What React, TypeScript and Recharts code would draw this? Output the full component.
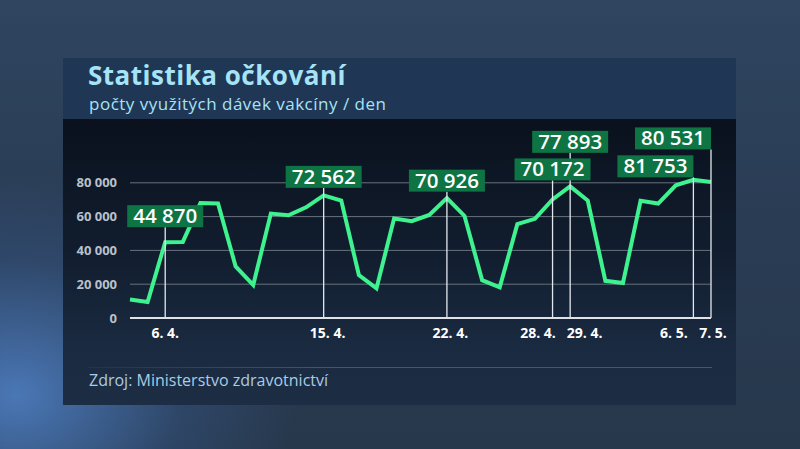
import React from 'react';
import { LineChart, Line, XAxis, YAxis, CartesianGrid } from 'recharts';

// one point per day, 4. 4. – 7. 5.
const days = [
  '4. 4.', '5. 4.', '6. 4.', '7. 4.', '8. 4.', '9. 4.', '10. 4.', '11. 4.', '12. 4.', '13. 4.',
  '14. 4.', '15. 4.', '16. 4.', '17. 4.', '18. 4.', '19. 4.', '20. 4.', '21. 4.', '22. 4.', '23. 4.',
  '24. 4.', '25. 4.', '26. 4.', '27. 4.', '28. 4.', '29. 4.', '30. 4.', '1. 5.', '2. 5.', '3. 5.',
  '4. 5.', '5. 5.', '6. 5.', '7. 5.',
];
const doses = [
  11000, 9500, 44870, 45000, 68000, 67800, 30500, 19500, 61800, 60800,
  65500, 72562, 69500, 25400, 17500, 58900, 57300, 61000, 70926, 60400,
  22400, 18200, 55500, 58700, 70172, 77893, 69500, 22000, 20700, 69300,
  67700, 78500, 81753, 80531,
];
const yTicks = [0, 20000, 40000, 60000, 80000];
const highlighted = ['6. 4.', '15. 4.', '22. 4.', '28. 4.', '29. 4.', '6. 5.', '7. 5.'];

// callout box placement (px above the point), layout only
const calloutLift: Record<string, { lift: number; align: 'center' | 'right' }> = {
  '6. 4.': { lift: 15, align: 'center' },
  '15. 4.': { lift: 7.5, align: 'center' },
  '22. 4.': { lift: 6.5, align: 'center' },
  '28. 4.': { lift: 19, align: 'center' },
  '29. 4.': { lift: 33.5, align: 'center' },
  '6. 5.': { lift: 2.5, align: 'right' },
  '7. 5.': { lift: 32.5, align: 'right' },
};
// date labels are nudged apart where lines are close
const tickNudge: Record<string, number> = {
  '6. 4.': 0, '15. 4.': 4, '22. 4.': 3.5, '28. 4.': -14.5, '29. 4.': 14.5, '6. 5.': -19.5, '7. 5.': 2,
};

const data = days.map((d, i) => ({ i, day: d, v: doses[i] }));
const tickIdx = highlighted.map((d) => days.indexOf(d));

const W = 800;
const H = 449;
const margin = { top: 149, right: 89, bottom: 101, left: 70 };
const PLOT_BOTTOM = H - margin.bottom - 30;
const BOX_W = 76;
const BOX_H = 22;
const FONT = '"Open Sans", "DejaVu Sans", sans-serif';

const fmt = (n: number) => String(n).replace(/\B(?=(\d{3})+(?!\d))/g, ' ');

function boxGeom(day: string, cx: number, cy: number) {
  const c = calloutLift[day];
  const bottom = cy - c.lift;
  const left = c.align === 'center' ? cx - BOX_W / 2 : cx - BOX_W;
  return { left, bottom };
}

const StemDot = (props: any) => {
  const { cx, cy, payload, index } = props;
  if (!calloutLift[payload.day]) return <g key={index} />;
  const { bottom } = boxGeom(payload.day, cx, cy);
  return <line key={index} x1={cx} x2={cx} y1={PLOT_BOTTOM} y2={bottom} stroke="#e4e8ee" strokeWidth={1.3} />;
};

const BoxDot = (props: any) => {
  const { cx, cy, payload, index } = props;
  if (!calloutLift[payload.day]) return <g key={index} />;
  const { left, bottom } = boxGeom(payload.day, cx, cy);
  return (
    <g key={index}>
      <rect x={left} y={bottom - BOX_H} width={BOX_W} height={BOX_H} fill="#0e7443" />
      <text x={left + BOX_W / 2} y={bottom - 4} textAnchor="middle" fill="#ffffff" fontFamily={FONT} fontWeight={600} fontSize={20.5}>
        {fmt(payload.v)}
      </text>
    </g>
  );
};

const DateTick = (props: any) => {
  const { x, y, payload } = props;
  const label = days[payload.value];
  return (
    <text x={x + (tickNudge[label] || 0)} y={y + 18} textAnchor="middle" fill="#ffffff" fontFamily={FONT} fontWeight={700} fontSize={14}>
      {label}
    </text>
  );
};

export default function App() {
  return (
    <div
      style={{
        position: 'absolute', left: 0, top: 0, width: W, height: H, overflow: 'hidden',
        background:
          'radial-gradient(ellipse 35% 50% at 2% 88%, rgba(80,130,200,0.85), rgba(60,100,160,0.3) 60%, rgba(0,0,0,0) 100%), linear-gradient(180deg, #2f4560 0%, #2a3c54 50%, #27384c 100%)',
        fontFamily: FONT,
      }}
    >
      <div style={{ position: 'absolute', left: 63, top: 58, width: 673, height: 61, background: '#1f3655' }} />
      <div
        style={{
          position: 'absolute', left: 63, top: 119, width: 673, height: 286,
          background: 'linear-gradient(180deg, #0a111d 0%, #111d2e 45%, #1a2a40 80%, #1d2d43 100%)',
        }}
      />
      <div style={{ position: 'absolute', left: 88, top: 60, color: '#a6e3f7', fontSize: 26, fontWeight: 700, letterSpacing: 0.5, whiteSpace: 'nowrap', lineHeight: '30px' }}>
        Statistika očkování
      </div>
      <div style={{ position: 'absolute', left: 89, top: 94, color: '#a6e3f7', fontSize: 17, letterSpacing: 0.5, whiteSpace: 'nowrap', lineHeight: '20px' }}>
        počty využitých dávek vakcíny / den
      </div>
      <div
        style={{
          position: 'absolute', left: 88, top: 367, width: 624, height: 1,
          background: 'linear-gradient(90deg, rgba(40,90,140,0.2), #2a5e90 40%, #2a5e90 100%)',
        }}
      />
      <div style={{ position: 'absolute', left: 89, top: 370, color: '#a8cde6', fontSize: 16, whiteSpace: 'nowrap', lineHeight: '20px' }}>
        Zdroj: Ministerstvo zdravotnictví
      </div>
      <div style={{ position: 'absolute', left: 0, top: 0 }}>
        <LineChart width={W} height={H} data={data} margin={margin}>
          <CartesianGrid horizontal vertical={false} horizontalValues={yTicks} stroke="#68717c" strokeWidth={1} />
          <XAxis
            dataKey="i"
            type="number"
            domain={[0, days.length - 1]}
            ticks={tickIdx}
            interval={0}
            height={30}
            tickSize={0}
            axisLine={{ stroke: '#dfe3e8', strokeWidth: 2 }}
            tick={DateTick}
          />
          <YAxis
            domain={[0, 100000]}
            ticks={yTicks}
            width={60}
            tickSize={0}
            tickMargin={13}
            axisLine={false}
            tickFormatter={(v: number) => fmt(v)}
            tick={{ fill: '#b9c1ca', fontSize: 13, fontWeight: 700, fontFamily: FONT }}
          />
          <Line dataKey="v" stroke="none" dot={StemDot} activeDot={false} isAnimationActive={false} />
          <Line dataKey="v" stroke="#3ef28f" strokeWidth={4} dot={false} activeDot={false} isAnimationActive={false} />
          <Line dataKey="v" stroke="none" dot={BoxDot} activeDot={false} isAnimationActive={false} />
        </LineChart>
      </div>
    </div>
  );
}
